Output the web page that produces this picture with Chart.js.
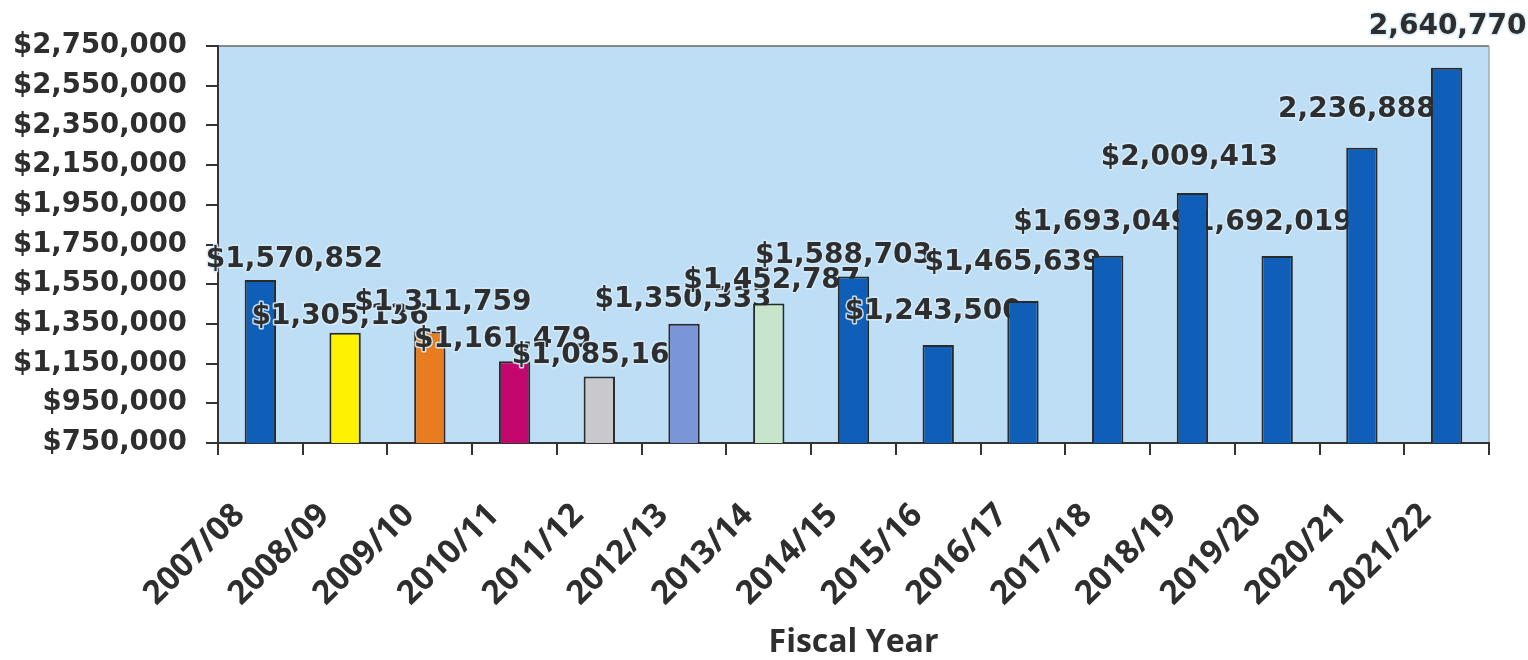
<!DOCTYPE html>
<html>
<head>
<meta charset="utf-8">
<script src="https://cdn.jsdelivr.net/npm/chart.js@4.4.1/dist/chart.umd.min.js"></script>
<style>
  html, body { margin: 0; padding: 0; background: #fff; }
  #wrap { width: 1528px; height: 660px; }
</style>
</head>
<body>
<div id="wrap"><canvas id="chart" width="1528" height="660"></canvas></div>
<script>
// fiscal years on the x axis
const fiscalYears = ['2007/08', '2008/09', '2009/10', '2010/11', '2011/12', '2012/13', '2013/14',
    '2014/15', '2015/16', '2016/17', '2017/18', '2018/19', '2019/20', '2020/21', '2021/22'];

// amount per year
const amounts = [1570852, 1305136, 1311759, 1161479, 1085163, 1350333, 1452787,
    1588703, 1243500, 1465639, 1693049, 2009413, 1692019, 2236888, 2640770];

// label text as printed on the original (last two have no $)
const amountLabels = ['$1,570,852', '$1,305,136', '$1,311,759', '$1,161,479', '$1,085,163', '$1,350,333',
    '$1,452,787', '$1,588,703', '$1,243,500', '$1,465,639', '$1,693,049', '$2,009,413', '$1,692,019',
    '2,236,888', '2,640,770'];

// y axis range
const yMin = 750000;
const yMax = 2750000;
const yStep = 200000;

const barColors = ['#0F5FB9', '#FFF200', '#E77D1F', '#C4076E', '#C9C8CD', '#7B95D9', '#C6E5CA',
    '#0F5FB9', '#0F5FB9', '#0F5FB9', '#0F5FB9', '#0F5FB9', '#0F5FB9', '#0F5FB9', '#0F5FB9'];

// labels were hand placed in the original, offsets in px from the top centre of each bar
const labelNudge = [[34, -20], [-5, -16], [13, -29], [-12, -22], [1, -21], [-1, -24], [3, -23],
    [-10, -21], [-5, -33], [-10, -38], [-6, -33], [-3, -35], [-13, -33], [-5, -38], [1, -41]];
// this one is hidden behind the bar before it, so it goes under every bar
const labelsBehindAll = [12];

const textColor = '#2e2e2e';

const plotBackground = {
    id: 'plotBackground',
    beforeDraw(chart) {
        const {ctx, chartArea: a} = chart;
        ctx.save();
        ctx.fillStyle = '#BDDEF5';
        ctx.fillRect(a.left, a.top, a.right - a.left, a.bottom - a.top);
        ctx.lineWidth = 1.5;
        ctx.strokeStyle = '#666';
        ctx.beginPath();
        ctx.moveTo(a.left, a.top);
        ctx.lineTo(a.right, a.top);
        ctx.stroke();
        ctx.strokeStyle = '#aaa';
        ctx.beginPath();
        ctx.moveTo(a.right, a.top);
        ctx.lineTo(a.right, a.bottom);
        ctx.stroke();
        ctx.restore();
    }
};

function drawAmountLabel(ctx, bar, i) {
    const x = bar.x + labelNudge[i][0];
    const y = bar.y + labelNudge[i][1];
    ctx.save();
    ctx.font = 'bold 28px "DejaVu Sans"';
    ctx.textAlign = 'center';
    ctx.textBaseline = 'middle';
    ctx.lineJoin = 'round';
    ctx.strokeStyle = 'rgba(214, 235, 250, 0.9)';
    ctx.lineWidth = 3;
    ctx.strokeText(amountLabels[i], x, y);
    ctx.fillStyle = textColor;
    ctx.fillText(amountLabels[i], x, y);
    ctx.restore();
}

// in the original each label mostly sits over the previous bar but under its own and the next ones,
// so draw label then bar, one year at a time
const amountLabelPlugin = {
    id: 'amountLabels',
    beforeDatasetDraw(chart, args) {
        const ctx = chart.ctx;
        const a = chart.chartArea;
        const bars = args.meta.data;
        labelsBehindAll.forEach(i => drawAmountLabel(ctx, bars[i], i));
        bars.forEach((bar, i) => {
            if (!labelsBehindAll.includes(i)) drawAmountLabel(ctx, bar, i);
            // bars start below the axis minimum, keep them inside the plot
            ctx.save();
            ctx.beginPath();
            ctx.rect(a.left, a.top - 2, a.right - a.left, a.bottom - a.top + 2);
            ctx.clip();
            bar.draw(ctx, a);
            ctx.restore();
        });
        return false;
    }
};

const ctx = document.getElementById('chart').getContext('2d');

new Chart(ctx, {
    type: 'bar',
    data: {
        labels: fiscalYears,
        datasets: [{
            data: amounts,
            backgroundColor: barColors,
            borderColor: '#2a2a2a',
            borderWidth: 2,
            borderSkipped: false,
            barPercentage: 0.37,
            categoryPercentage: 1
        }]
    },
    options: {
        responsive: false,
        animation: false,
        layout: {
            padding: {top: 46, right: 39, bottom: 0, left: 0}
        },
        plugins: {
            legend: {display: false},
            tooltip: {enabled: false}
        },
        scales: {
            y: {
                min: yMin,
                max: yMax,
                afterFit(scale) { scale.width = 218; },
                ticks: {
                    stepSize: yStep,
                    padding: 19,
                    color: textColor,
                    font: {family: 'DejaVu Sans', weight: 'bold', size: 27.5},
                    callback: v => '$' + v.toLocaleString('en-US')
                },
                grid: {drawOnChartArea: false, drawTicks: true, tickLength: 12, color: '#333', lineWidth: 2},
                border: {color: '#333', width: 2}
            },
            x: {
                afterFit(scale) { scale.height = 217; },
                ticks: {
                    autoSkip: false,
                    maxRotation: 45,
                    minRotation: 45,
                    padding: 41,
                    labelOffset: -21,
                    color: textColor,
                    font: {family: 'Open Sans', weight: 'bold', size: 33}
                },
                grid: {drawOnChartArea: false, drawTicks: true, tickLength: 12, color: '#333', lineWidth: 2, offset: true},
                border: {color: '#333', width: 2},
                title: {
                    display: true,
                    text: 'Fiscal Year',
                    color: textColor,
                    font: {family: 'Open Sans', weight: 'bold', size: 32},
                    padding: {top: 0, bottom: -2}
                }
            }
        }
    },
    plugins: [plotBackground, amountLabelPlugin]
});
</script>
</body>
</html>
